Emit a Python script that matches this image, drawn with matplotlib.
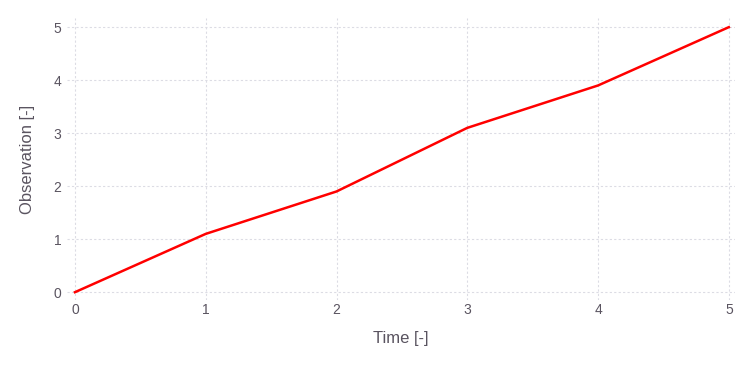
import matplotlib
matplotlib.use('Agg')
import matplotlib.pyplot as plt

time = [0, 1, 2, 3, 4, 5]
observation = [0, 1.1, 1.9, 3.1, 3.9, 5.0]
xticks = [0, 1, 2, 3, 4, 5]
yticks = [0, 1, 2, 3, 4, 5]

plt.rcParams['font.family'] = ['Liberation Sans', 'DejaVu Sans']

fig = plt.figure(figsize=(7.56, 3.78), dpi=100)
ax = fig.add_axes([0.0886, 0.206, 0.8834, 0.746])

ax.plot(time, observation, color='#ff0000', linewidth=1.8)

ax.set_xlim(-0.061, 5.046)
ax.set_ylim(-0.15, 5.17)
ax.set_xticks(xticks)
ax.set_yticks(yticks)
for s in ax.spines.values():
    s.set_visible(False)
ax.grid(True, color='#dcdce4', linestyle=(0, (2, 2)), linewidth=0.8)
ax.set_axisbelow(True)
ax.tick_params(length=0, colors='#5a5460', labelsize=10, pad=4)
ax.tick_params(axis='x', pad=2)

ax.set_xlabel('Time [-]', fontsize=12, color='#5a5460', labelpad=10)
ax.set_ylabel('Observation [-]', fontsize=12, color='#5a5460', labelpad=13)

fig.savefig('out.png', dpi=100)
